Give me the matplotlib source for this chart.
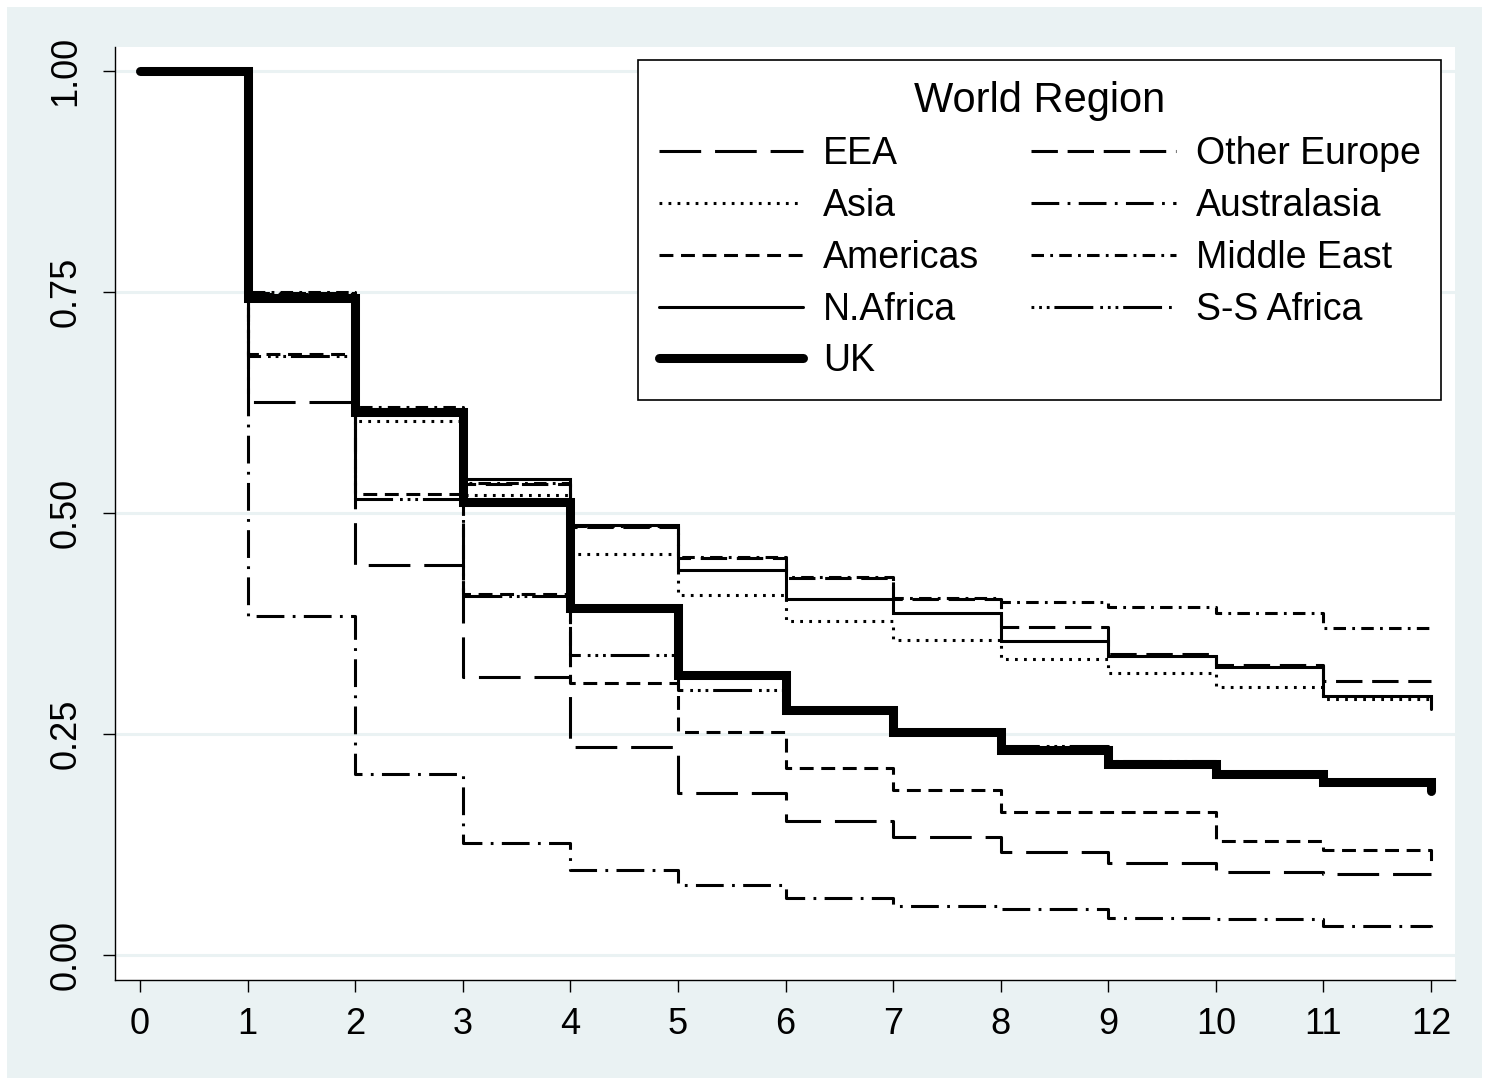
import numpy as np
import matplotlib.pyplot as plt
from matplotlib.patches import Rectangle

plt.rcParams['font.family'] = ['Liberation Sans', 'DejaVu Sans']
plt.rcParams['lines.scale_dashes'] = False

# years since arrival (step function, value holds from t to t+1; last value at t=12)
years = np.arange(0, 13)

eea = [1.0, 0.626, 0.441, 0.315, 0.235, 0.183, 0.152, 0.134, 0.117, 0.104, 0.094, 0.092, 0.092]
other_europe = [1.0, 0.749, 0.616, 0.533, 0.484, 0.449, 0.427, 0.403, 0.371, 0.340, 0.328, 0.310, 0.310]
asia = [1.0, 0.748, 0.604, 0.520, 0.454, 0.407, 0.378, 0.356, 0.335, 0.319, 0.303, 0.290, 0.287]
australasia = [1.0, 0.383, 0.205, 0.127, 0.096, 0.079, 0.065, 0.055, 0.052, 0.042, 0.041, 0.033, 0.032]
americas = [1.0, 0.680, 0.522, 0.408, 0.308, 0.252, 0.212, 0.187, 0.162, 0.162, 0.129, 0.119, 0.104]
middle_east = [1.0, 0.750, 0.620, 0.534, 0.485, 0.450, 0.428, 0.404, 0.399, 0.394, 0.387, 0.370, 0.370]
n_africa = [1.0, 0.745, 0.618, 0.538, 0.486, 0.436, 0.403, 0.387, 0.355, 0.338, 0.326, 0.293, 0.278]
ss_africa = [1.0, 0.678, 0.516, 0.406, 0.339, 0.300, 0.278, 0.255, 0.236, 0.220, 0.205, 0.197, 0.190]
uk = [1.0, 0.743, 0.614, 0.512, 0.393, 0.317, 0.277, 0.252, 0.232, 0.216, 0.205, 0.196, 0.185]

x_ticks = list(range(0, 13))
y_ticks = [0.0, 0.25, 0.5, 0.75, 1.0]
y_tick_labels = ['0.00', '0.25', '0.50', '0.75', '1.00']

bg = '#eaf2f3'
fs = 26

fig = plt.figure(figsize=(14.89, 10.85), dpi=100, facecolor='white')
fig.patches.append(Rectangle((7 / 1489, 7 / 1085), 1475 / 1489, 1071 / 1085,
                             transform=fig.transFigure, facecolor=bg,
                             edgecolor='none', zorder=-10))

ax = fig.add_axes([115 / 1489, 105 / 1085, 1340 / 1489, 933 / 1085])
ax.set_facecolor('white')

thin = 2.2
series = [
    ('EEA', eea, dict(dashes=(30, 10))),
    ('Asia', asia, dict(dashes=(2, 4.5))),
    ('Americas', americas, dict(dashes=(10, 5.5))),
    ('N.Africa', n_africa, dict(linestyle='-')),
    ('UK', uk, dict(linestyle='-')),
    ('Other Europe', other_europe, dict(dashes=(19, 7))),
    ('Australasia', australasia, dict(dashes=(20, 6, 2, 6))),
    ('Middle East', middle_east, dict(dashes=(9, 4.5, 2, 4.5))),
    ('S-S Africa', ss_africa, dict(dashes=(2, 3.5, 2, 3.5, 2, 3.5, 28, 5))),
]

handles = []
for name, vals, style in series:
    lw = 6.5 if name == 'UK' else thin
    z = 3 if name == 'UK' else 4
    line, = ax.plot(years, vals, drawstyle='steps-post', color='black',
                    linewidth=lw, label=name, zorder=z,
                    solid_capstyle='round', solid_joinstyle='miter', **style)
    handles.append(line)

ax.set_xlim(-25 / 107.58, 12 + 24 / 107.58)
ax.set_ylim(-25 / 884, 1 + 24 / 884)

ax.set_xticks(x_ticks)
ax.set_yticks(y_ticks)
ax.set_yticklabels(y_tick_labels, rotation=90, va='center')
ax.tick_params(axis='both', labelsize=fs, length=8.6, width=1.0, direction='out')
ax.tick_params(axis='y', pad=14)
ax.tick_params(axis='x', pad=11)

ax.grid(axis='y', color=bg, linewidth=2.2, zorder=0)
ax.set_axisbelow(True)

for s in ['top', 'right']:
    ax.spines[s].set_visible(False)
for s in ['left', 'bottom']:
    ax.spines[s].set_linewidth(1.0)

leg = ax.legend(handles=handles, ncol=2, title='World Region', fontsize=27,
                title_fontsize=30, loc='upper right',
                bbox_to_anchor=((1441 - 115) / 1340, (980 - 60) / 933),
                borderaxespad=0, frameon=True, fancybox=False,
                handlelength=3.85, handletextpad=0.53, columnspacing=1.39,
                labelspacing=0.42, borderpad=0.55)
leg.get_frame().set_edgecolor('black')
leg.get_frame().set_linewidth(1.2)
leg.get_frame().set_facecolor('white')
leg.get_frame().set_alpha(1)

fig.savefig('out.png', dpi=100, facecolor='white')
